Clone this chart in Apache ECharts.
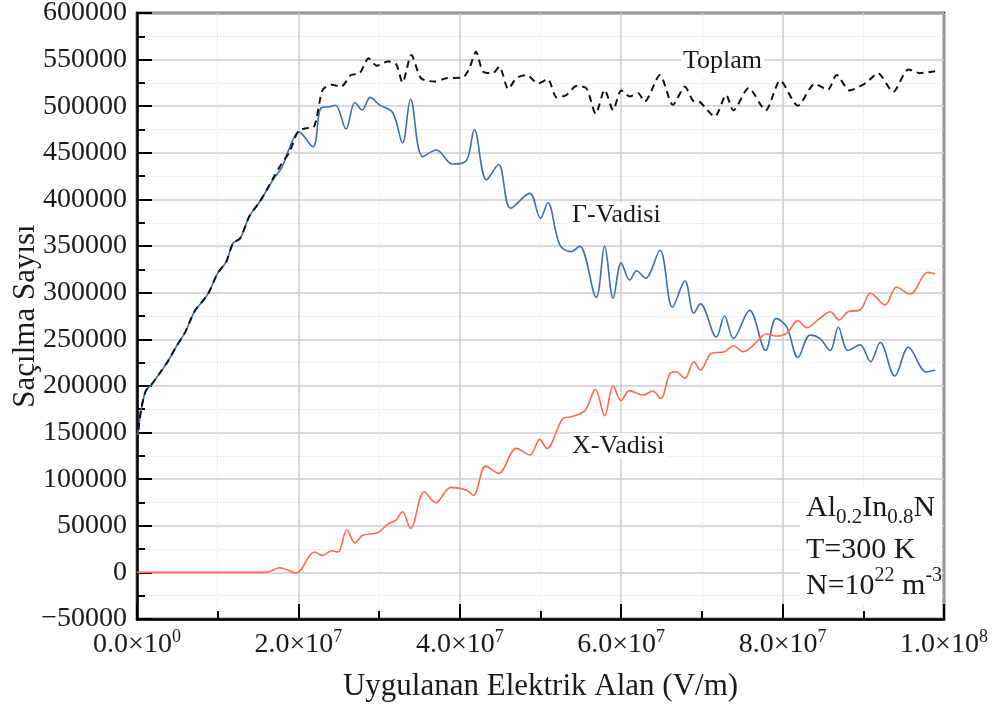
<!DOCTYPE html>
<html>
<head>
<meta charset="utf-8">
<script src="https://cdn.jsdelivr.net/npm/echarts@6/dist/echarts.min.js"></script>
<style>
  html, body { margin: 0; padding: 0; background: #fff; }
  #chart { width: 994px; height: 708px; }
</style>
</head>
<body>
<div id="chart"></div>
<script>
// Applied electric field samples are listed in MV/m (multiplied by FIELD_UNIT to get V/m).
const FIELD_UNIT = 1e6;

// Γ-valley scattering count
const gammaField = [0, 0.5, 1.1, 1.75, 2.8, 3.8, 4.85, 5.9, 7.1, 7.9, 8.85, 10.0, 11.05, 11.9, 12.8, 13.9, 15.2, 16.2, 17.0, 17.9, 18.7, 19.4, 20.0,
  21.8, 22.8, 23.85, 24.6, 25.9, 27.0, 27.9, 28.9, 30.05, 31.7, 32.9, 33.9, 35.4, 37.1, 39.1, 40.8, 41.8, 43.3, 44.8, 46.3, 48.65, 50.0,
  50.9, 52.4, 53.8, 54.85, 56.9, 57.95, 59.0, 60.0, 61.05, 61.9, 63.0, 64.8, 66.35, 67.9, 69.0, 69.8, 71.8, 72.8, 73.9, 75.9, 77.9, 79.2,
  80.5, 81.9, 83.4, 84.6, 85.9, 86.9, 88.1, 89.6, 90.9, 92.1, 93.9, 95.6, 97.8, 98.9];
const gammaCount = [140000, 174000, 195000, 201000, 213500, 226000, 242000, 256500, 279500, 288500, 299500, 321000, 333000, 353000, 358500, 381500, 397500, 412000, 423000, 433500, 451000, 465500, 472500,
  456500, 498000, 499500, 501000, 475500, 504000, 496000, 509500, 501500, 493000, 460500, 507500, 446000, 453000, 438000, 441500, 475000, 421000, 437500, 390500, 406500, 380000,
  396500, 351000, 344000, 350000, 295000, 350000, 294000, 332000, 313500, 323500, 315500, 345500, 284500, 312500, 278000, 288000, 252500, 275000, 251000, 281000, 238000, 272500,
  263500, 230500, 254500, 251000, 238000, 263000, 238000, 244000, 226000, 246500, 210500, 241500, 215000, 217000];

// X-valley scattering count
const xValleyField = [0, 16.0, 17.7, 19.7, 22.0, 23.0, 24.1, 24.9, 26.0, 27.0, 28.0, 29.8, 31.1, 32.1, 32.9, 33.9, 35.6, 37.0, 38.9, 40.8, 41.7,
  43.2, 44.8, 47.0, 48.7, 49.9, 50.8, 52.8, 53.8, 55.5, 56.8, 57.95, 59.0, 60.0, 61.0, 62.7, 63.9, 64.9, 66.0, 66.8, 67.9, 69.0, 69.8,
  71.2, 72.8, 73.9, 75.1, 76.4, 78.0, 79.2, 80.5, 81.9, 83.0, 84.6, 85.9, 87.0, 88.1, 89.6, 90.9, 92.7, 94.1, 95.8, 98.0, 98.9];
const xValleyCount = [0, 0, 5000, -700, 21800, 18200, 23200, 21800, 45400, 31800, 40000, 42500, 51800, 56100, 65000, 47200, 86500, 74700, 91200, 88300, 82600,
  114000, 106200, 133000, 125900, 142700, 133000, 165200, 167000, 173500, 196300, 168000, 199900, 184100, 195000, 190200, 194500, 186700, 212800, 215200, 208200, 226000, 217100,
  235000, 236700, 243100, 236700, 243900, 255700, 253500, 256400, 270000, 262500, 272500, 279600, 270700, 279600, 281400, 299400, 286800, 305800, 298600, 321900, 320100];

// Total (Toplam) scattering count
const totalField = [0, 0.5, 1.1, 1.75, 2.8, 3.8, 4.85, 5.9, 7.1, 7.9, 8.85, 10.0, 11.05, 11.9, 12.8, 13.9, 15.2, 16.2, 17.0, 17.9, 18.9, 20.0,
  21.0, 21.9, 23.0, 24.1, 25.3, 26.5, 27.6, 28.7, 29.7, 31.1, 32.1, 32.9, 34.0, 35.2, 36.9, 38.3, 40.4, 41.2, 42.0, 42.9, 44.1, 44.9,
  46.0, 47.0, 48.25, 49.7, 50.9, 52.0, 53.2, 54.5, 55.7, 56.85, 57.95, 59.0, 60.0, 61.05, 62.1, 62.9, 64.8, 66.4, 67.9, 68.9, 69.7,
  71.6, 73.0, 73.9, 75.8, 77.9, 79.7, 81.9, 84.0, 85.6, 86.7, 88.3, 90.4, 91.8, 93.7, 95.6, 97.0, 98.9];
const totalCount = [140000, 174000, 195000, 201000, 213500, 226000, 242000, 256500, 279500, 288500, 299500, 321000, 333000, 353000, 358500, 381500, 397500, 412000, 425000, 438000, 451000, 473500,
  476500, 477500, 517500, 523000, 521000, 533500, 535500, 551500, 543500, 548000, 545500, 525500, 555000, 530000, 526500, 530000, 531000, 541000, 558500, 537000, 535500, 542500,
  518500, 530000, 533500, 524500, 529000, 509500, 512000, 522000, 519000, 492000, 517500, 496000, 517000, 510500, 514000, 505000, 533500, 501500, 521000, 506000, 505000,
  489000, 512000, 495500, 519500, 495500, 527500, 500500, 524000, 517500, 533500, 517000, 525500, 535500, 515500, 539500, 535500, 537500];

const FONT = 'Liberation Serif';
const TEXT = '#1a1a1a';

function pairs(fields, counts) {
  return fields.map((f, i) => [f * FIELD_UNIT, counts[i]]);
}

function sciLabel(v) {
  if (v === 0) return '{m|0.0×10}{s|0}';
  const e = Math.floor(Math.log10(v) + 1e-9);
  const m = v / Math.pow(10, e);
  return '{m|' + m.toFixed(1) + '×10}{s|' + e + '}';
}

const chart = echarts.init(document.getElementById('chart'), null, { renderer: 'canvas' });

const tickLine = { color: '#000', width: 2 };

// plain annotation text with a white box behind it
function note(text, x, y, size) {
  return {
    type: 'text', x: x, y: y, z: 100,
    style: { text: text, font: size + 'px "Liberation Serif"', fill: TEXT, verticalAlign: 'middle',
             backgroundColor: '#fff', padding: [0, 2, 0, 2] }
  };
}

chart.setOption({
  animation: false,
  backgroundColor: '#fff',
  grid: { left: 137, right: 50, top: 13, bottom: 89, show: true, borderColor: '#000', borderWidth: 2.5,
          containLabel: false, outerBoundsMode: 'none' },
  xAxis: {
    type: 'value', min: 0, max: 1e8, interval: 2e7,
    axisLine: { show: true, onZero: false, lineStyle: { color: '#000', width: 2.5 } },
    axisTick: { show: true, inside: true, length: 15, lineStyle: tickLine },
    minorTick: { show: true, splitNumber: 2, length: 8, lineStyle: tickLine },
    splitLine: { show: true, lineStyle: { color: '#cdcdcd', width: 1.5 } },
    minorSplitLine: { show: true, lineStyle: { color: '#e4e4e4', width: 1, type: 'dotted' } },
    axisLabel: {
      show: true, margin: 9, showMinLabel: true, showMaxLabel: true, hideOverlap: false,
      formatter: sciLabel,
      rich: {
        m: { fontFamily: FONT, fontSize: 28, color: TEXT, lineHeight: 34, verticalAlign: 'middle' },
        s: { fontFamily: FONT, fontSize: 18, color: TEXT, lineHeight: 16, verticalAlign: 'top' }
      }
    },
    name: 'Uygulanan Elektrik Alan (V/m)', nameLocation: 'middle', nameGap: 52, nameMoveOverlap: false,
    nameTextStyle: { fontFamily: FONT, fontSize: 31, color: TEXT }
  },
  yAxis: {
    type: 'value', min: -50000, max: 600000, interval: 50000,
    axisLine: { show: true, onZero: false, lineStyle: { color: '#000', width: 2.5 } },
    axisTick: { show: true, inside: true, length: 15, lineStyle: tickLine },
    minorTick: { show: true, splitNumber: 2, length: 8, lineStyle: tickLine },
    splitLine: { show: true, lineStyle: { color: '#cdcdcd', width: 1.5 } },
    minorSplitLine: { show: true, lineStyle: { color: '#e4e4e4', width: 1, type: 'dotted' } },
    axisLabel: {
      show: true, margin: 10, fontFamily: FONT, fontSize: 28, color: TEXT,
      showMinLabel: true, showMaxLabel: true, hideOverlap: false,
      formatter: v => (v < 0 ? '\u2212' + Math.abs(v) : String(v))
    },
    name: 'Saçılma Sayısı', nameLocation: 'middle', nameGap: 96, nameRotate: 90, nameMoveOverlap: false,
    nameTextStyle: { fontFamily: FONT, fontSize: 31, color: TEXT }
  },
  series: [
    {
      name: 'Γ-Vadisi', type: 'line', data: pairs(gammaField, gammaCount),
      smooth: 0.35, symbol: 'none', showSymbol: false,
      lineStyle: { color: '#3a70ad', width: 1.6 }, z: 3
    },
    {
      name: 'X-Vadisi', type: 'line', data: pairs(xValleyField, xValleyCount),
      smooth: 0.35, symbol: 'none', showSymbol: false,
      lineStyle: { color: '#ff6a4d', width: 1.6 }, z: 3
    },
    {
      name: 'Toplam', type: 'line', data: pairs(totalField, totalCount),
      smooth: 0.25, symbol: 'none', showSymbol: false,
      lineStyle: { color: '#111', width: 2, type: [7, 5] }, z: 4
    }
  ],
  graphic: [
    note('Toplam', 681, 61, 26),
    note('Γ-Vadisi', 570, 215, 26),
    note('X-Vadisi', 570, 446, 26),
    // material / conditions block
    {
      type: 'rect', z: 99,
      shape: { x: 800, y: 488, width: 142, height: 116 },
      style: { fill: '#fff' }
    },
    {
      type: 'text', x: 806, y: 508, z: 100,
      style: {
        text: '{a|Al}{b|0.2}{a|In}{b|0.8}{a|N}', verticalAlign: 'middle',
        rich: {
          a: { fontFamily: FONT, fontSize: 30, fill: TEXT, lineHeight: 40, verticalAlign: 'middle' },
          b: { fontFamily: FONT, fontSize: 21, fill: TEXT, lineHeight: 12, verticalAlign: 'bottom' }
        }
      }
    },
    { type: 'text', x: 806, y: 550, z: 100, style: { text: 'T=300 K', font: '30px "Liberation Serif"', fill: TEXT, verticalAlign: 'middle' } },
    {
      type: 'text', x: 806, y: 586, z: 100,
      style: {
        text: '{a|N=10}{c|22}{a| m}{c|-3}', verticalAlign: 'middle',
        rich: {
          a: { fontFamily: FONT, fontSize: 30, fill: TEXT, lineHeight: 40, verticalAlign: 'middle' },
          c: { fontFamily: FONT, fontSize: 20, fill: TEXT, lineHeight: 20, verticalAlign: 'top' }
        }
      }
    }
  ]
});
</script>
</body>
</html>
